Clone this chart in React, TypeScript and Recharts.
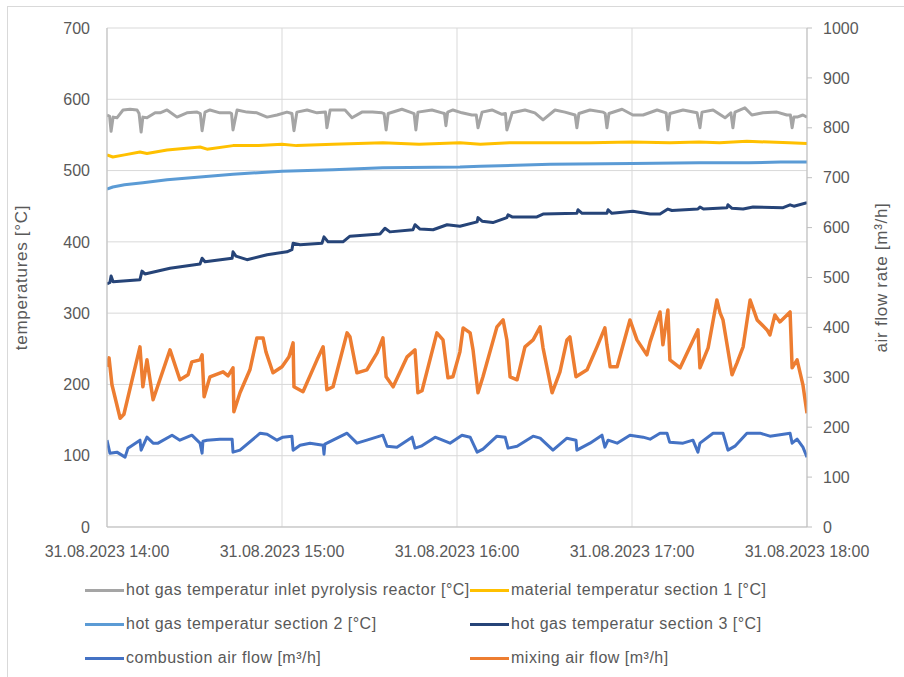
import React from 'react';
import { LineChart, Line, XAxis, YAxis, CartesianGrid } from 'recharts';

// time in minutes after 31.08.2023 14:00
const xTicks = [0, 60, 120, 180, 240];
const xTickLabels = ['31.08.2023 14:00', '31.08.2023 15:00', '31.08.2023 16:00', '31.08.2023 17:00', '31.08.2023 18:00'];
const leftTicks = [0, 100, 200, 300, 400, 500, 600, 700];
const rightTicks = [0, 100, 200, 300, 400, 500, 600, 700, 800, 900, 1000];

// [minute, °C]
const hotGasInlet: [number, number][] = [
  [0,578],[0.9,576],[1.4,555],[2.1,575],[3.4,574],[5.5,585],[7.9,586],[10.3,585],[11.0,580],[11.7,554],[12.3,575],[13.7,574],[16.5,581],[18.2,581],[20.6,585],[24.0,575],[27.4,581],[30.9,582],[32.0,580],[32.6,556],[33.6,582],[35.3,585],[38.7,581],[42.2,581],[42.7,580],[43.2,557],[44.6,585],[48.0,582],[51.4,581],[54.9,575],[58.3,578],[61.7,582],[63.4,580],[64.1,556],[65.1,582],[68.6,585],[72.0,581],[74.9,582],[75.4,560],[76.5,585],[79.9,585],[81.6,585],[84.0,574],[87.4,582],[91,582],[94.3,581],[95.0,580],[95.7,557],[96.4,580],[101.1,586],[103.9,582],[105.3,580],[105.9,557],[106.6,582],[111.4,585],[114.9,581],[115.7,580],[116.2,563],[116.8,582],[118.6,585],[121.7,581],[125.1,578],[126.6,578],[127.2,560],[128.6,582],[132.0,585],[135.4,579],[136.6,580],[137.1,557],[138.9,581],[143.3,585],[146.7,581],[149.5,571],[153.6,585],[157.0,582],[160.5,578],[161.1,560],[161.8,580],[165.6,585],[170.1,582],[170.8,580],[171.4,560],[172.1,580],[176.6,586],[180.3,578],[183.8,578],[188.6,585],[191.7,581],[192.3,557],[193.0,580],[197.5,585],[202.3,581],[203.3,560],[204.0,582],[207.8,585],[211.9,574],[213.9,581],[214.6,560],[215.3,582],[218.7,588],[221.1,578],[224.9,581],[229.7,582],[233.1,578],[234.3,578],[234.9,560],[235.5,575],[236.6,575],[238.6,578],[240,575]
];

const materialSection1: [number, number][] = [
  [0,522],[2,519],[6,522],[11.3,526],[13.7,524],[20.6,529],[31.9,533],[34.3,530],[43.2,535],[52,535],[60,537],[65,535],[77.5,537],[94.6,539],[107,537],[121,539],[128,537],[138,539],[152,539],[165.6,539],[180,540],[193,539],[203,540],[210,539],[219.4,541],[227,540],[234,539],[240,538]
];

const hotGasSection2: [number, number][] = [
  [0,474],[2,477],[6,480],[12.3,483],[20.6,487],[31.9,491],[43.2,495],[60,499],[77.5,501],[94.6,504],[121,505],[128,506],[152,509],[180,510],[203,511],[220,511],[231,512],[240,512]
];

const hotGasSection3: [number, number][] = [
  [0,341],[1.0,343],[1.4,352],[2.1,344],[11.3,347],[12.0,359],[13.0,355],[21.6,363],[31.9,369],[32.6,377],[33.6,372],[42.9,377],[43.2,386],[44.2,380],[48,375],[54.9,382],[61.7,386],[63.4,389],[63.8,398],[66.2,396],[73.7,398],[74.4,407],[75.8,400],[80.9,400],[83.3,408],[93.6,411],[95.3,419],[97.0,414],[104.9,417],[105.6,424],[107.3,418],[111.8,417],[116.6,424],[121.0,422],[126.9,428],[127.2,434],[128.6,429],[132.3,427],[137.1,434],[137.5,438],[138.9,435],[147.4,435],[149.5,439],[161.1,440],[161.5,445],[162.9,440],[171.4,440],[171.8,445],[173.1,440],[180.3,443],[186.2,439],[189.6,439],[192.3,446],[193.7,444],[202.6,446],[203.3,449],[204.5,446],[212.6,448],[212.9,452],[214.3,447],[218.1,446],[221.5,449],[231.8,448],[234.2,452],[235.5,450],[240,455]
];

// [minute, m³/h]
const combustionAir: [number, number][] = [
  [0,174],[1.0,148],[3.4,150],[6.2,140],[7.2,158],[11.3,174],[11.7,154],[13.7,180],[15.8,168],[17.5,168],[22.3,184],[25,174],[29.1,184],[31.9,168],[32.6,148],[32.9,172],[34.3,174],[38.7,176],[42.9,176],[43.2,150],[45.6,154],[52.5,188],[54.9,186],[58.3,174],[60.3,180],[63.4,182],[63.8,154],[66.2,164],[69.6,168],[74.1,164],[74.4,146],[74.7,166],[82.3,188],[85.7,168],[89.1,174],[94.6,184],[96,162],[99.4,160],[104.6,180],[105.6,158],[107.7,162],[112.5,180],[117.6,168],[121.7,184],[124.5,180],[126.9,150],[128.9,156],[133.7,182],[136.5,180],[137.5,158],[140.6,162],[146.1,182],[148.5,178],[152.9,154],[157.7,178],[160.8,174],[161.1,154],[165.6,168],[169.7,184],[170.7,160],[171.8,174],[174.9,168],[179.3,184],[183.8,180],[186.2,176],[189.6,188],[192,188],[192.9,170],[197.5,168],[200.9,174],[202.6,150],[203.3,168],[207.8,188],[211.2,188],[212.9,154],[215.3,162],[219.4,188],[223.9,188],[227.3,182],[234.2,188],[234.9,168],[236.6,176],[238.6,160],[240,140]
];

const mixingAir: [number, number][] = [
  [0,321],[0.7,339],[1.7,285],[4.5,218],[5.8,226],[11.3,361],[12.3,281],[13.7,335],[15.8,255],[21.6,355],[25,295],[27.8,305],[29.1,331],[31.9,335],[32.6,345],[33.3,261],[35.3,301],[39.8,311],[41.5,303],[43.2,319],[43.5,231],[45.6,269],[49,315],[51.4,379],[53.5,379],[54.5,351],[56.9,309],[60,321],[62.4,341],[63.8,369],[64.1,281],[67.2,271],[72,335],[74.1,361],[75.4,275],[77.5,281],[82.3,389],[83.3,381],[85.7,309],[89.1,315],[92.6,349],[94.6,379],[95.7,301],[98.1,281],[102.9,341],[105.6,355],[106.6,269],[108,273],[113.1,389],[115.2,375],[116.9,299],[118.6,301],[121,351],[122.1,399],[124.5,389],[125.5,355],[127.2,269],[128.9,301],[133.7,401],[135.8,415],[137.1,375],[138.2,301],[140.6,295],[143.3,361],[146.1,375],[148.5,401],[149.5,359],[152.6,269],[155.3,311],[157.7,375],[158.7,381],[160.8,301],[164.6,315],[168,361],[170.7,399],[171.4,365],[172.5,321],[174.9,321],[179.3,415],[181.7,375],[185.1,345],[186.2,371],[189.6,431],[190.6,365],[192.3,435],[193,335],[196.5,319],[199.9,361],[202.6,395],[203.3,319],[206.1,359],[209.1,455],[210.2,429],[211.2,415],[214.3,305],[216,329],[218.1,361],[220.5,455],[222.9,415],[226.3,395],[227.3,385],[229,425],[230.7,411],[234.2,431],[234.9,319],[236.6,335],[238.6,285],[240,228]
];

const seriesNames = [
  'hot gas temperatur inlet pyrolysis reactor [°C]',
  'material temperatur section 1 [°C]',
  'hot gas temperatur section 2 [°C]',
  'hot gas temperatur section 3 [°C]',
  'combustion air flow [m³/h]',
  'mixing air flow [m³/h]',
];
const seriesColors = ['#A5A5A5', '#FFC000', '#5B9BD5', '#264478', '#4472C4', '#ED7D31'];
const seriesData = [hotGasInlet, materialSection1, hotGasSection2, hotGasSection3, combustionAir, mixingAir];
const seriesAxis = ['left', 'left', 'left', 'left', 'right', 'right'];
const seriesWidth = [3, 3, 3, 3, 3, 3.5];

const toRows = (arr: [number, number][]) => arr.map(([t, v]) => ({ t, v }));

const FONT = '"Liberation Sans", Arial, sans-serif';
const TEXT = '#595959';

export default function App() {
  const legendRows = [0, 1, 2];
  const titleStyle = { fontSize: 17, fill: TEXT, fontFamily: FONT, letterSpacing: '0.7px' };
  return (
    <div style={{ position: 'absolute', left: 0, top: 0, width: 904, height: 677, background: '#fff', fontFamily: FONT, overflow: 'hidden' }}>
      <div style={{ position: 'absolute', left: 7, top: 6, width: 897, height: 1, background: '#d9d9d9' }} />
      <div style={{ position: 'absolute', left: 7, top: 6, width: 1, height: 671, background: '#d9d9d9' }} />
      <div style={{ position: 'absolute', left: 0, top: 0 }}>
        <LineChart width={904} height={677} margin={{ top: 28, right: 0, bottom: 120, left: 0 }} style={{ fontFamily: FONT }}>
          <CartesianGrid yAxisId="left" stroke="#d9d9d9" strokeWidth={1} />
          <XAxis
            dataKey="t"
            type="number"
            domain={[0, 240]}
            ticks={xTicks}
            interval={0}
            allowDataOverflow
            height={30}
            tickFormatter={(v: number) => xTickLabels[xTicks.indexOf(v)] ?? ''}
            tick={{ fontSize: 16, fill: TEXT }}
            tickLine={false}
            tickSize={0}
            tickMargin={19}
            axisLine={{ stroke: '#bfbfbf' }}
          />
          <YAxis
            yAxisId="left"
            orientation="left"
            type="number"
            domain={[0, 700]}
            ticks={leftTicks}
            interval={0}
            width={107}
            tick={{ fontSize: 16, fill: TEXT }}
            tickLine={false}
            tickSize={0}
            tickMargin={17}
            axisLine={{ stroke: '#bfbfbf' }}
            label={{ value: 'temperatures [°C]', angle: -90, position: 'center', dx: -33, style: titleStyle }}
          />
          <YAxis
            yAxisId="right"
            orientation="right"
            type="number"
            domain={[0, 1000]}
            ticks={rightTicks}
            interval={0}
            width={97}
            tick={{ fontSize: 16, fill: TEXT }}
            tickLine={{ stroke: '#bfbfbf' }}
            tickSize={5}
            tickMargin={11}
            axisLine={{ stroke: '#bfbfbf' }}
            label={{ value: 'air flow rate [m³/h]', angle: -90, position: 'center', dx: 25, style: titleStyle }}
          />
          {seriesData.map((d, i) => (
            <Line
              key={seriesNames[i]}
              name={seriesNames[i]}
              data={toRows(d)}
              dataKey="v"
              yAxisId={seriesAxis[i]}
              type="linear"
              stroke={seriesColors[i]}
              strokeWidth={seriesWidth[i]}
              dot={false}
              activeDot={false}
              isAnimationActive={false}
              strokeLinejoin="round"
            />
          ))}
        </LineChart>
      </div>
      {legendRows.map((r) =>
        [0, 1].map((c) => {
          const i = r * 2 + c;
          const top = 590 + r * 34;
          const lineLeft = c === 0 ? 85 : 470;
          return (
            <React.Fragment key={i}>
              <div style={{ position: 'absolute', left: lineLeft, top: top - 1.5, width: 39, height: 3, background: seriesColors[i] }} />
              <div style={{ position: 'absolute', left: lineLeft + 41, top: top - 10, fontSize: 16, lineHeight: '20px', letterSpacing: '0.5px', color: TEXT, whiteSpace: 'nowrap' }}>
                {seriesNames[i]}
              </div>
            </React.Fragment>
          );
        })
      )}
    </div>
  );
}
